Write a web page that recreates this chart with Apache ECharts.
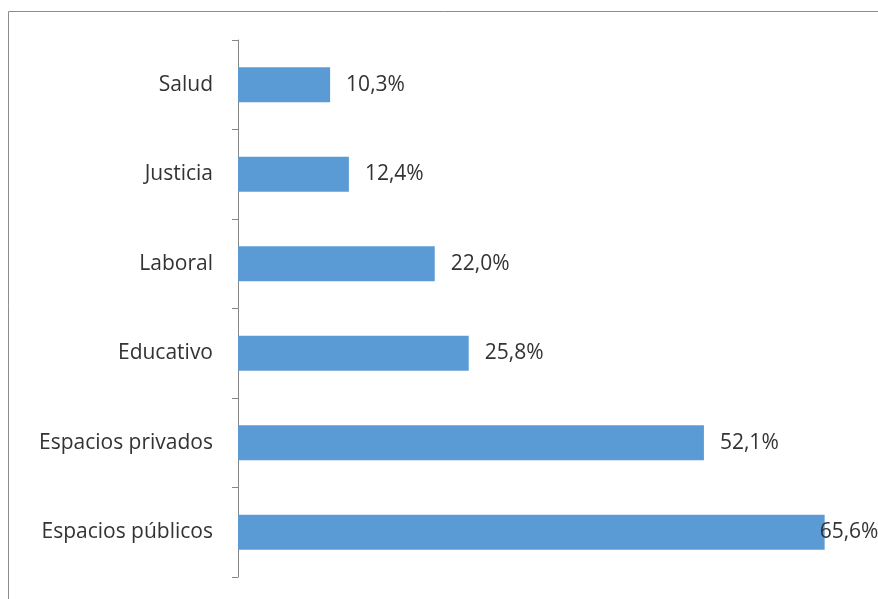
<!DOCTYPE html>
<html>
<head>
<meta charset="utf-8">
<script src="https://cdn.jsdelivr.net/npm/echarts@6/dist/echarts.min.js"></script>
<style>
html,body{margin:0;padding:0;background:#fff;}
#chart{width:878px;height:599px;}
</style>
</head>
<body>
<div id="chart"></div>
<script>
var categories = ["Espacios públicos", "Espacios privados", "Educativo", "Laboral", "Justicia", "Salud"];
var values = [65.6, 52.1, 25.8, 22.0, 12.4, 10.3];

var chart = echarts.init(document.getElementById('chart'));
var FONT = '"Open Sans", sans-serif';
var seriesData = values.map(function (v, i) {
  var d = { value: v };
  if (i === 0) d.label = { distance: -5 };
  return d;
});
chart.setOption({
  animation: false,
  backgroundColor: '#ffffff',
  graphic: [{
    type: 'rect',
    shape: { x: 8.5, y: 11.5, width: 900, height: 700 },
    style: { fill: 'none', stroke: '#8c8c8c', lineWidth: 1 },
    silent: true
  }],
  grid: { left: 238, right: 14, top: 40, bottom: 22, containLabel: false },
  xAxis: {
    type: 'value', min: 0, max: 70,
    show: false
  },
  yAxis: {
    type: 'category',
    data: categories,
    axisLine: { show: true, lineStyle: { color: '#868686', width: 1 } },
    axisTick: { show: true, length: 6, lineStyle: { color: '#868686' } },
    axisLabel: { color: '#333333', fontSize: 21, fontFamily: FONT, margin: 25 },
    splitLine: { show: false }
  },
  series: [{
    type: 'bar',
    data: seriesData,
    barWidth: 35,
    itemStyle: { color: '#5b9bd5' },
    label: {
      show: true,
      position: 'right',
      distance: 16,
      color: '#333333',
      fontSize: 21,
      fontFamily: FONT,
      formatter: function (p) { return p.value.toFixed(1).replace('.', ',') + '%'; }
    }
  }]
});
</script>
</body>
</html>
